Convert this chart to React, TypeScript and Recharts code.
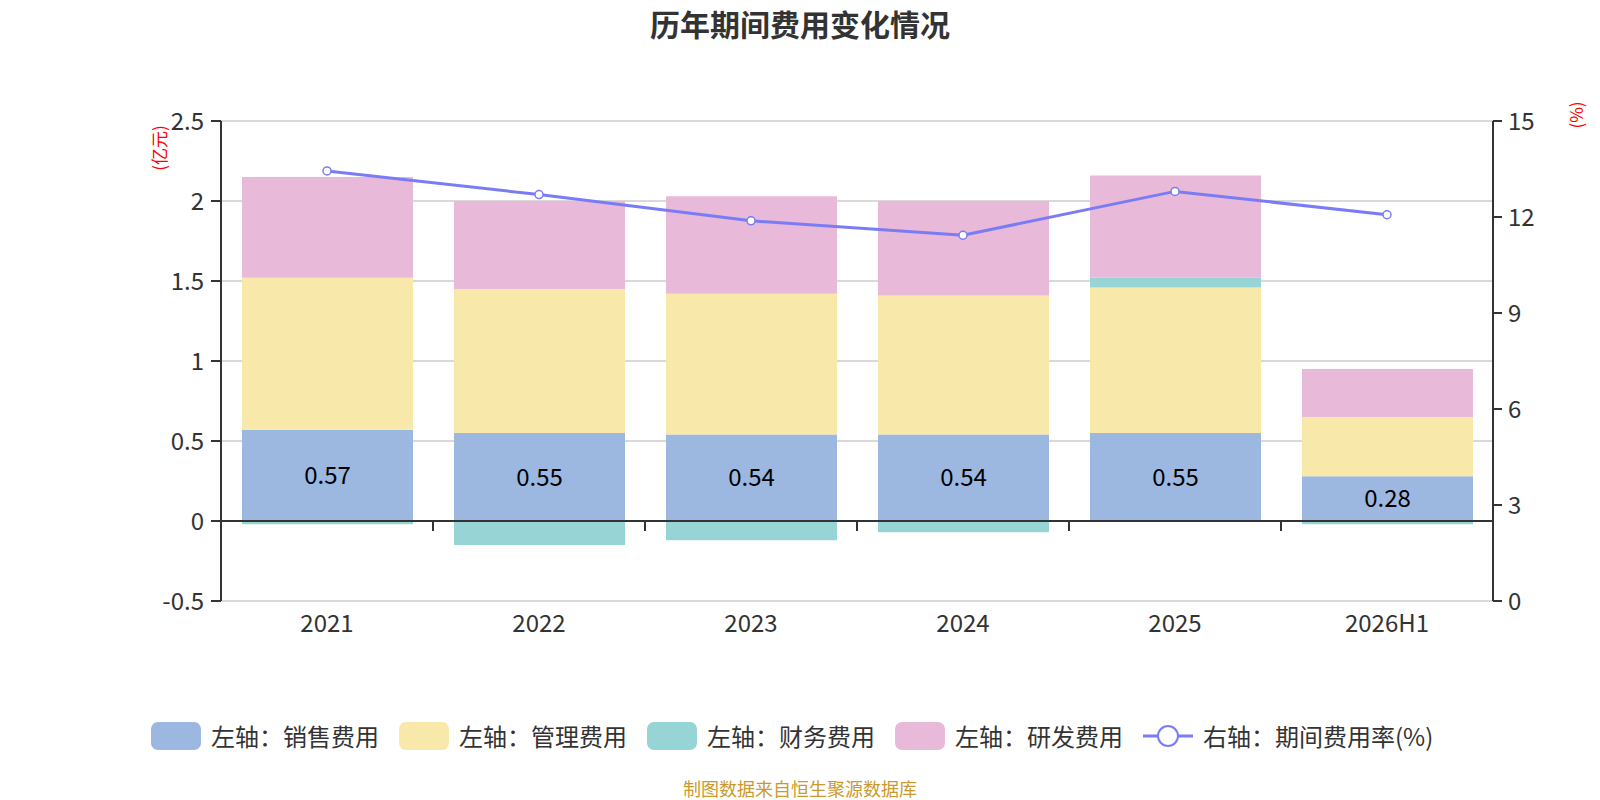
import React from 'react';
import {
  ComposedChart,
  Bar,
  Line,
  XAxis,
  YAxis,
  CartesianGrid,
  ReferenceLine,
  LabelList,
} from 'recharts';

const categories = ['2021', '2022', '2023', '2024', '2025', '2026H1'];
const salesExp = [0.57, 0.55, 0.54, 0.54, 0.55, 0.28];
const adminExp = [0.95, 0.9, 0.88, 0.87, 0.91, 0.37];
const financeExp = [-0.02, -0.15, -0.12, -0.07, 0.06, -0.02];
const rdExp = [0.63, 0.55, 0.61, 0.59, 0.64, 0.3];
const expenseRate = [13.44, 12.7, 11.88, 11.43, 12.8, 12.07];

const leftTicks = [-0.5, 0, 0.5, 1, 1.5, 2, 2.5];
const rightTicks = [0, 3, 6, 9, 12, 15];

const data = categories.map((name, i) => ({
  name,
  sales: salesExp[i],
  admin: adminExp[i],
  finance: financeExp[i],
  rd: rdExp[i],
  rate: expenseRate[i],
}));

const FONT = '"Noto Sans CJK SC", "Noto Sans", sans-serif';
const TEXT = '#333333';

const barSeries = [
  { key: 'sales', name: '左轴：销售费用', color: '#9cb8e1' },
  { key: 'admin', name: '左轴：管理费用', color: '#f8e8aa' },
  { key: 'finance', name: '左轴：财务费用', color: '#97d4d5' },
  { key: 'rd', name: '左轴：研发费用', color: '#e8b9d8' },
];
const lineSeries = { key: 'rate', name: '右轴：期间费用率(%)', color: '#7a7cf5' };

const ZeroAxis = (props: any) => {
  const { x1, x2, y1 } = props;
  const n = categories.length;
  const step = (x2 - x1) / n;
  const ticks = [];
  for (let i = 1; i < n; i++) {
    const x = x1 + step * i;
    ticks.push(<line key={i} x1={x} x2={x} y1={y1} y2={y1 + 10} stroke={TEXT} strokeWidth={2} />);
  }
  return (
    <g>
      <line x1={x1} x2={x2} y1={y1} y2={y1} stroke={TEXT} strokeWidth={2} />
      {ticks}
    </g>
  );
};

const LegendBox = () => (
  <div
    style={{
      position: 'absolute',
      left: 151,
      top: 718,
      height: 36,
      display: 'flex',
      alignItems: 'center',
      fontFamily: FONT,
      fontSize: 24,
      lineHeight: '36px',
      color: TEXT,
      whiteSpace: 'nowrap',
    }}
  >
    {barSeries.map((s) => (
      <div key={s.key} style={{ display: 'flex', alignItems: 'center', marginRight: 20 }}>
        <div style={{ width: 50, height: 28, borderRadius: 7, background: s.color, marginRight: 10 }} />
        <span>{s.name}</span>
      </div>
    ))}
    <div style={{ display: 'flex', alignItems: 'center' }}>
      <svg width={50} height={30} style={{ marginRight: 10 }}>
        <line x1={0} x2={50} y1={15} y2={15} stroke={lineSeries.color} strokeWidth={3} />
        <circle cx={25} cy={15} r={10} fill="#fff" stroke={lineSeries.color} strokeWidth={2} />
      </svg>
      <span>{lineSeries.name}</span>
    </div>
  </div>
);

export default function App() {
  return (
    <div style={{ position: 'absolute', left: 0, top: 0, width: 1600, height: 800, background: '#fff', fontFamily: FONT, overflow: 'hidden' }}>
      <div
        style={{
          position: 'absolute',
          left: 0,
          top: 3,
          width: 1600,
          textAlign: 'center',
          fontSize: 30,
          fontWeight: 'bold',
          color: TEXT,
          lineHeight: '40px',
        }}
      >
        历年期间费用变化情况
      </div>
      <ComposedChart
        width={1600}
        height={800}
        data={data}
        stackOffset="sign"
        margin={{ top: 121, left: 161, right: 47, bottom: 159 }}
        style={{ fontFamily: FONT }}
      >
        <CartesianGrid yAxisId="left" vertical={false} stroke="#cccccc" strokeWidth={1.5} />
        <XAxis
          dataKey="name"
          axisLine={false}
          tickLine={false}
          tickMargin={8}
          height={40}
          tick={{ fill: TEXT, fontSize: 24 }}
        />
        <YAxis
          yAxisId="left"
          width={60}
          domain={[-0.5, 2.5]}
          ticks={leftTicks}
          interval={0}
          axisLine={{ stroke: TEXT, strokeWidth: 2 }}
          tickLine={{ stroke: TEXT, strokeWidth: 2 }}
          tickSize={10}
          tickMargin={7}
          tick={{ fill: TEXT, fontSize: 24 }}
        />
        <YAxis
          yAxisId="right"
          orientation="right"
          width={60}
          domain={[0, 15]}
          ticks={rightTicks}
          interval={0}
          axisLine={{ stroke: TEXT, strokeWidth: 2 }}
          tickLine={{ stroke: TEXT, strokeWidth: 2 }}
          tickSize={9}
          tickMargin={6}
          tick={{ fill: TEXT, fontSize: 24 }}
        />
        {barSeries.map((s) => (
          <Bar
            key={s.key}
            yAxisId="left"
            dataKey={s.key}
            name={s.name}
            stackId="exp"
            fill={s.color}
            barSize={171}
            isAnimationActive={false}
          >
            {s.key === 'sales' ? (
              <LabelList dataKey="sales" position="center" fill="#000" fontSize={24} />
            ) : null}
          </Bar>
        ))}
        <ReferenceLine yAxisId="left" y={0} shape={ZeroAxis} />
        <Line
          yAxisId="right"
          dataKey="rate"
          name={lineSeries.name}
          stroke={lineSeries.color}
          strokeWidth={3}
          dot={{ r: 4, fill: '#fff', stroke: lineSeries.color, strokeWidth: 1.5 }}
          activeDot={false}
          isAnimationActive={false}
        />
      </ComposedChart>
      <div
        style={{
          position: 'absolute',
          left: 129,
          top: 136,
          width: 60,
          height: 24,
          color: '#ff0000',
          fontSize: 17,
          transform: 'rotate(-90deg)',
          textAlign: 'center',
          lineHeight: '24px',
        }}
      >
        (亿元)
      </div>
      <div
        style={{
          position: 'absolute',
          left: 1556,
          top: 103,
          width: 40,
          height: 24,
          color: '#ff0000',
          fontSize: 17,
          transform: 'rotate(-90deg)',
          textAlign: 'center',
          lineHeight: '24px',
        }}
      >
        (%)
      </div>
      <LegendBox />
      <div
        style={{
          position: 'absolute',
          left: 0,
          top: 778,
          width: 1600,
          textAlign: 'center',
          fontSize: 18,
          color: '#c99a2e',
          lineHeight: '21px',
        }}
      >
        制图数据来自恒生聚源数据库
      </div>
    </div>
  );
}
